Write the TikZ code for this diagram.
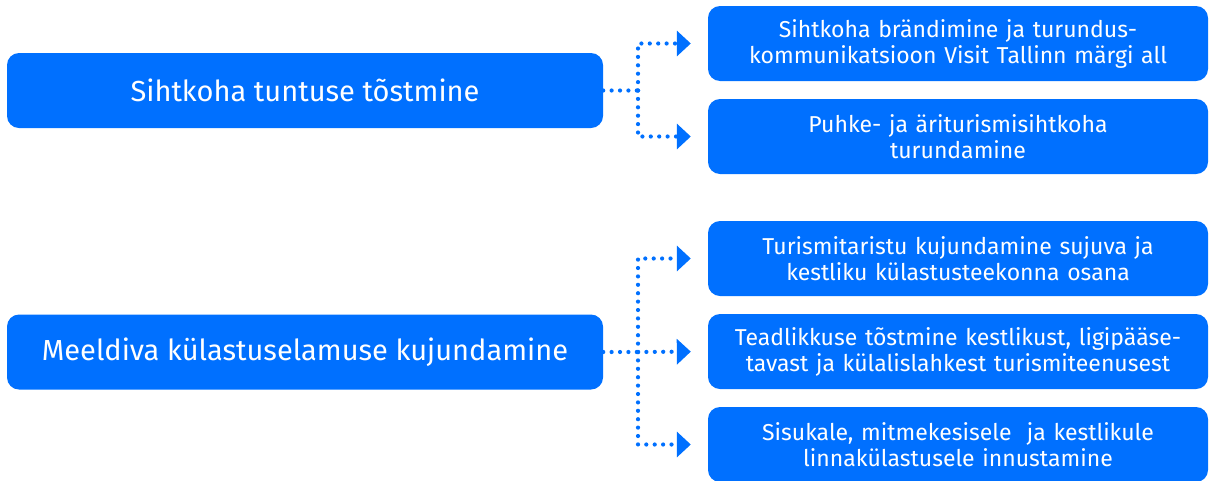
\documentclass[tikz,border=0pt]{standalone}
\usepackage{fontspec}
\setmainfont{Fira Sans}
\usetikzlibrary{arrows.meta}
\definecolor{vtblue}{RGB}{0,112,255}
\tikzset{
  mainbox/.style={rectangle, rounded corners=12pt, fill=vtblue, text=white,
    minimum width=596pt, minimum height=75pt, inner sep=0pt,
    font=\fontsize{29}{34}\selectfont, align=center},
  subbox/.style={rectangle, rounded corners=12pt, fill=vtblue, text=white,
    minimum width=500pt, minimum height=75pt, inner sep=0pt,
    font=\fontsize{23}{26}\selectfont, align=center, text width=490pt},
  dotline/.style={draw=vtblue, line width=4.2pt, line cap=round,
    dash pattern=on 0pt off 8.4pt},
  dotarrow/.style={dotline, -{Triangle[length=14pt,width=25pt]}, shorten >=17pt},
}
\begin{document}
\begin{tikzpicture}[x=1pt,y=-1pt]
\useasboundingbox (0,0) rectangle (1209,480);
\begin{scope}
\clip (0,0) rectangle (1209,480);
\node[mainbox] (L1) at (305,90.5) {Sihtkoha tuntuse tõstmine};
\node[mainbox] (L2) at (305,352) {Meeldiva külastuselamuse kujundamine};
\node[subbox] (R1) at (958,43.5) {Sihtkoha brändimine ja turundus-\\kommunikatsioon Visit Tallinn märgi all};
\node[subbox] (R2) at (958,136.5) {Puhke- ja äriturismisihtkoha\\turundamine};
\node[subbox] (R3) at (958,258.5) {Turismitaristu kujundamine sujuva ja\\kestliku külastusteekonna osana};
\node[subbox] (R4) at (958,351.5) {Teadlikkuse tõstmine kestlikust, ligipääse-\\tavast ja külalislahkest turismiteenusest};
\node[subbox] (R5) at (958,444.5) {Sisukale, mitmekesisele\ \ ja kestlikule\\linnakülastusele innustamine};
\end{scope}
\coordinate (J1) at (638,90.5);
\coordinate (J2) at (638,352);
\draw[dotline] (L1.east) -- (J1);
\draw[dotarrow] (J1) |- (R1.west);
\draw[dotarrow] (J1) |- (R2.west);
\draw[dotline] (L2.east) -- (J2);
\draw[dotarrow] (J2) |- (R3.west);
\draw[dotarrow] (J2) -- (R4.west);
\draw[dotarrow] (J2) |- (R5.west);
\end{tikzpicture}
\end{document}
